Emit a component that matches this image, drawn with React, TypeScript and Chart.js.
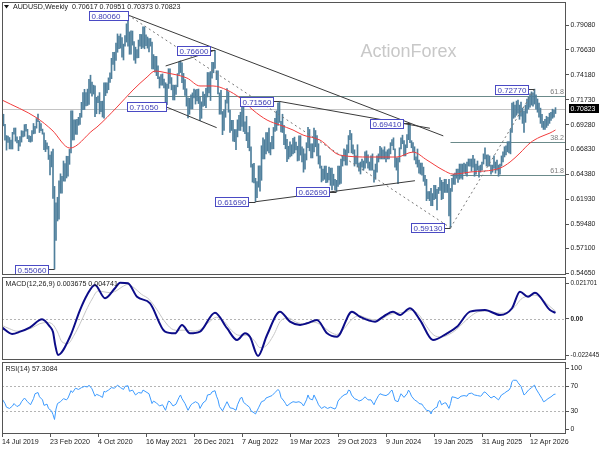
import React, { useEffect, useRef } from "react";
import { Chart, registerables } from "chart.js";

Chart.register(...registerables);

// ---------- DATA ----------
// Weekly AUDUSD bars starting week of 14 Jul 2019, prices in pips (price x 10000)
const highs = [
  7082, 7030, 6930, 6820, 6816, 6801, 6775, 6852, 6895, 6895,
  6808, 6773, 6810, 6868, 6864, 6928, 6930, 6882, 6821, 6814,
  6870, 6939, 6910, 6988, 7032, 6960, 6939, 6884, 6846, 6773,
  6749, 6715, 6629, 6662, 6686, 6320, 6158, 6213, 6375, 6444,
  6420, 6570, 6545, 6617, 6616, 6684, 7064, 7064, 6976, 6976,
  6980, 7000, 7039, 7147, 7242, 7275, 7242, 7277, 7374, 7414,
  7346, 7316, 7310, 7197, 7209, 7243, 7158, 7159, 7340, 7340,
  7340, 7388, 7438, 7580, 7640, 7640, 7730, 7820, 7800, 7820,
  7785, 7720, 7804, 7920, 8006, 7840, 7850, 7849, 7745, 7690,
  7667, 7760, 7817, 7815, 7891, 7890, 7812, 7790, 7775, 7776,
  7739, 7617, 7600, 7599, 7507, 7398, 7420, 7427, 7376, 7340,
  7326, 7478, 7478, 7391, 7317, 7316, 7316, 7430, 7546, 7556,
  7536, 7432, 7370, 7281, 7192, 7187, 7222, 7240, 7277, 7270,
  7276, 7278, 7196, 7152, 7250, 7227, 7285, 7441, 7440, 7450,
  7540, 7540, 7660, 7458, 7458, 7240, 7266, 7057, 7075, 7170,
  7283, 7251, 7070, 6970, 6970, 6880, 6880, 6975, 7020, 7050,
  7130, 7136, 6956, 7010, 6850, 6910, 6710, 6540, 6547, 6400,
  6367, 6522, 6522, 6720, 6798, 6780, 6850, 6850, 6893, 6752,
  6812, 6900, 6990, 7063, 7142, 7156, 6960, 7030, 6920, 6830,
  6783, 6715, 6758, 6730, 6793, 6805, 6757, 6715, 6818, 6818,
  6710, 6690, 6640, 6750, 6900, 6880, 6740, 6740, 6895, 6870,
  6820, 6740, 6620, 6520, 6490, 6520, 6520, 6450, 6510, 6500,
  6500, 6440, 6390, 6380, 6520, 6520, 6590, 6620, 6690, 6680,
  6730, 6820, 6871, 6840, 6730, 6680, 6620, 6730, 6550, 6560,
  6590, 6570, 6660, 6670, 6630, 6560, 6620, 6640, 6480, 6540,
  6620, 6640, 6714, 6700, 6680, 6710, 6660, 6680, 6690, 6750,
  6780, 6798, 6690, 6600, 6600, 6700, 6798, 6824, 6770, 6730,
  6830, 6940, 6941, 6770, 6750, 6710, 6610, 6688, 6580, 6550,
  6550, 6510, 6430, 6390, 6270, 6270, 6300, 6250, 6330, 6330,
  6290, 6310, 6408, 6380, 6360, 6390, 6390, 6340, 6390, 6300,
  6400, 6440, 6450, 6490, 6490, 6540, 6540, 6540, 6550, 6540,
  6560, 6590, 6590, 6590, 6625, 6590, 6540, 6570, 6520, 6530,
  6560, 6640, 6700, 6630, 6630, 6620, 6530, 6530, 6620, 6560,
  6580, 6530, 6540, 6620, 6660, 6710, 6720, 6760, 6760, 6880,
  7140, 7150, 7120, 7160, 7170, 7120, 7150, 7090, 7060, 7120,
  7180, 7200, 7230, 7250, 7240, 7277, 7220, 7180, 7140, 7090,
  7030, 6960, 6980, 7010, 7000, 7040, 7050, 7080, 7070, 7095,
];
const lows = [
  6990, 6916, 6776, 6677, 6752, 6689, 6688, 6688, 6835, 6765,
  6749, 6671, 6716, 6756, 6808, 6813, 6863, 6790, 6761, 6755,
  6762, 6837, 6842, 6893, 6956, 6850, 6869, 6834, 6682, 6662,
  6686, 6585, 6434, 6512, 6202, 5506, 5789, 5980, 5998, 6253,
  6253, 6372, 6372, 6403, 6420, 6537, 6649, 6776, 6777, 6832,
  6831, 6921, 6930, 7000, 7076, 7076, 7111, 7116, 7126, 7237,
  7207, 7229, 7006, 7035, 7143, 7034, 7055, 7003, 6991, 7213,
  7240, 7271, 7342, 7380, 7520, 7460, 7560, 7640, 7675, 7680,
  7592, 7564, 7700, 7740, 7700, 7620, 7622, 7710, 7563, 7531,
  7583, 7586, 7700, 7675, 7688, 7674, 7705, 7680, 7644, 7700,
  7477, 7475, 7445, 7410, 7380, 7288, 7316, 7315, 7290, 7105,
  7125, 7284, 7334, 7270, 7170, 7170, 7224, 7300, 7421, 7440,
  7340, 7275, 7215, 7110, 6993, 7030, 7082, 7082, 7190, 7130,
  7160, 7135, 6967, 6990, 7108, 7115, 7095, 7200, 7240, 7165,
  7385, 7438, 7480, 7370, 7230, 7030, 7030, 6829, 6870, 7000,
  7140, 7050, 6850, 6870, 6765, 6760, 6681, 6807, 6870, 6870,
  6910, 6860, 6840, 6770, 6700, 6670, 6510, 6362, 6355, 6169,
  6210, 6312, 6272, 6380, 6590, 6590, 6640, 6668, 6650, 6630,
  6690, 6690, 6860, 6871, 6920, 6950, 6855, 6850, 6730, 6690,
  6564, 6590, 6610, 6620, 6640, 6650, 6680, 6570, 6575, 6628,
  6560, 6460, 6490, 6580, 6700, 6670, 6600, 6600, 6660, 6710,
  6620, 6540, 6500, 6364, 6380, 6390, 6357, 6360, 6385, 6330,
  6286, 6330, 6285, 6269, 6320, 6340, 6350, 6520, 6570, 6530,
  6530, 6650, 6780, 6650, 6640, 6520, 6540, 6510, 6470, 6442,
  6510, 6480, 6500, 6550, 6500, 6480, 6480, 6480, 6362, 6390,
  6460, 6560, 6590, 6590, 6590, 6590, 6560, 6590, 6590, 6640,
  6720, 6680, 6510, 6480, 6348, 6560, 6690, 6740, 6620, 6620,
  6700, 6780, 6750, 6700, 6660, 6580, 6540, 6510, 6450, 6440,
  6430, 6370, 6330, 6180, 6200, 6180, 6130, 6130, 6190, 6200,
  6088, 6250, 6280, 6190, 6200, 6260, 6260, 6260, 6030, 5913,
  6270, 6340, 6340, 6400, 6360, 6390, 6400, 6390, 6460, 6440,
  6420, 6520, 6520, 6470, 6510, 6420, 6440, 6480, 6410, 6460,
  6480, 6540, 6590, 6520, 6520, 6520, 6440, 6460, 6500, 6450,
  6480, 6420, 6440, 6520, 6560, 6610, 6630, 6660, 6650, 6640,
  6850, 6990, 7000, 7020, 7040, 6980, 7010, 6940, 6850, 6950,
  7040, 7080, 7100, 7120, 7110, 7130, 7080, 7050, 7000, 6940,
  6900, 6880, 6880, 6900, 6920, 6940, 6970, 6990, 7000, 7037,
];

const lastOHLC = [0.70617, 0.70951, 0.70373, 0.70823];
const macdNow = [0.003675, 0.004741];
const rsiNow = 57.3084;

const xTickIdx = [0, 32, 64, 96, 128, 160, 192, 224, 256, 288, 320, 352];
const xTickLabels = [
  "14 Jul 2019", "23 Feb 2020", "4 Oct 2020", "16 May 2021", "26 Dec 2021", "7 Aug 2022",
  "19 Mar 2023", "29 Oct 2023", "9 Jun 2024", "19 Jan 2025", "31 Aug 2025", "12 Apr 2026",
];
const priceTicks = [0.5465, 0.571, 0.5948, 0.6193, 0.6438, 0.6683, 0.6928, 0.7173, 0.7418, 0.7663, 0.7908];
const macdTicks = [-0.022445, 0, 0.021701];
const rsiTicks = [0, 30, 70, 100];
const rsiLevels = [70, 30];

// 50-week moving average (bar index, value)
const maPoints: [number, number][] = [
  [0, 0.717], [23.3, 0.6993], [33.3, 0.6875], [45.3, 0.6697], [60.7, 0.6875], [63.3, 0.6904],
  [76.7, 0.7101], [87.3, 0.7268], [96.7, 0.7396], [102, 0.7455], [110, 0.7436], [123.3, 0.7386],
  [132, 0.7308], [140.7, 0.7308], [150, 0.7268], [158.7, 0.719], [167.3, 0.7071], [176.7, 0.6973],
  [185.3, 0.6924], [194, 0.6875], [200.7, 0.6825], [212, 0.6776], [225.3, 0.6628], [245.3, 0.6609],
  [263.3, 0.6609], [274, 0.6658], [283.3, 0.6579], [294, 0.6481], [300.7, 0.6441], [312, 0.6461],
  [332, 0.65], [338.7, 0.656], [345.3, 0.6648], [352, 0.6747], [358.7, 0.6806], [365.3, 0.6845],
  [369, 0.6875],
];

// MACD(12,26,9) main line
const macdPoints: [number, number][] = [
  [0, -0.0052], [6.7, -0.0092], [12, -0.0078], [18.7, -0.0051], [26.7, -0.0002], [32, -0.0048],
  [34, -0.008], [35.5, -0.016], [37.3, -0.022], [45.3, -0.0109], [52, 0.0054], [56.7, 0.0146],
  [62, 0.0207], [68.7, 0.0126], [75.3, 0.0187], [78.7, 0.0221], [84, 0.0217], [90, 0.0135],
  [98.7, 0.0095], [108.7, -0.0078], [115.3, -0.0088], [120, -0.0037], [125.3, -0.0088],
  [132, -0.0078], [142, 0.0038], [150, -0.0057], [156.7, -0.0129], [162, -0.0088],
  [165.3, -0.0109], [170.7, -0.0226], [176.7, -0.0098], [185.3, 0.0044], [192, -0.0017],
  [198.7, -0.0037], [203.3, -0.0027], [210, -0.0007], [216.7, -0.0088], [223.3, -0.0109],
  [233.3, 0.0044], [238.7, 0.0013], [248.7, -0.0017], [254, 0.0013], [260.7, 0.0044],
  [265.3, 0.0024], [272, 0.0065], [278.7, -0.0007], [287.3, -0.0129], [296.7, -0.0088],
  [303.3, -0.0048], [312, 0.0044], [322, 0.0054], [332, 0.0024], [340, 0.0065], [345.3, 0.0166],
  [350.7, 0.0135], [355.3, 0.016], [365.3, 0.0054], [369, 0.0037],
];

// MACD signal line
const signalPoints: [number, number][] = [
  [0, -0.004], [5, -0.006], [10, -0.0075], [15, -0.007], [20, -0.0055], [25, -0.003], [30, -0.0022],
  [34, -0.0035], [37, -0.008], [40, -0.014], [44, -0.015], [48, -0.01], [52, -0.003], [56, 0.005],
  [60, 0.012], [64, 0.017], [68, 0.0165], [72, 0.016], [76, 0.017], [80, 0.0195], [84, 0.021],
  [88, 0.019], [93, 0.015], [98, 0.012], [103, 0.006], [108, -0.001], [113, -0.006], [118, -0.007],
  [123, -0.0068], [128, -0.0075], [133, -0.006], [138, -0.002], [143, 0.001], [148, -0.0015],
  [153, -0.007], [158, -0.01], [163, -0.01], [168, -0.013], [172, -0.0175], [176, -0.0165],
  [181, -0.01], [186, -0.001], [191, 0.0005], [196, -0.002], [202, -0.003], [208, -0.002],
  [213, -0.004], [218, -0.0075], [223, -0.0095], [228, -0.006], [233, -0.0005], [238, 0.002],
  [243, 0.0005], [248, -0.0005], [253, 0], [258, 0.0025], [263, 0.0035], [268, 0.004], [273, 0.0052],
  [278, 0.0025], [283, -0.0045], [288, -0.01], [293, -0.011], [298, -0.0095], [303, -0.0065],
  [308, -0.002], [313, 0.002], [318, 0.0045], [323, 0.0048], [328, 0.0038], [333, 0.0035],
  [338, 0.0045], [342, 0.0075], [346, 0.012], [350, 0.0138], [355, 0.0145], [359, 0.013],
  [363, 0.0095], [366, 0.007], [369, 0.0047],
];

// RSI(14)
const rsiPoints: [number, number][] = [
  [0, 50], [2, 42], [3, 36], [5, 34], [7, 38], [8, 42], [10, 37], [12, 40], [13, 45], [15, 51],
  [17, 45], [19, 40], [21, 50], [22, 58], [24, 60], [25, 53], [27, 48], [28, 39], [30, 41], [31, 34],
  [33, 30], [34, 24], [35, 16], [36, 33], [37, 42], [39, 45], [41, 50], [43, 48], [44, 51], [46, 63],
  [47, 60], [49, 67], [51, 65], [53, 68], [55, 70], [57, 69], [58, 72], [60, 66], [62, 54], [63, 57],
  [65, 55], [67, 52], [68, 62], [69, 61], [71, 64], [73, 68], [75, 67], [77, 72], [79, 68], [81, 65],
  [82, 70], [84, 71], [85, 62], [87, 64], [89, 56], [91, 60], [93, 59], [94, 64], [96, 61], [98, 58],
  [100, 42], [101, 46], [103, 43], [105, 38], [107, 40], [109, 31], [110, 39], [111, 46], [112, 45],
  [114, 38], [116, 41], [118, 52], [119, 56], [120, 50], [122, 42], [124, 31], [126, 40], [127, 42],
  [129, 45], [131, 42], [132, 34], [134, 43], [136, 47], [137, 56], [139, 57], [140, 61], [142, 63],
  [143, 54], [144, 48], [145, 37], [147, 30], [149, 40], [150, 45], [152, 35], [154, 34], [156, 31],
  [157, 40], [159, 51], [160, 52], [161, 44], [163, 40], [165, 36], [166, 30], [168, 27], [169, 25],
  [171, 35], [173, 45], [175, 47], [176, 51], [178, 53], [180, 55], [182, 60], [184, 65], [185, 62],
  [186, 52], [188, 46], [189, 42], [190, 38], [192, 42], [194, 45], [196, 44], [198, 45], [200, 42],
  [201, 38], [203, 48], [204, 56], [205, 50], [207, 48], [208, 56], [210, 46], [211, 40], [213, 34],
  [215, 37], [217, 34], [219, 36], [220, 35], [222, 33], [223, 37], [224, 46], [226, 52], [228, 56],
  [230, 58], [231, 64], [232, 63], [233, 56], [235, 50], [237, 48], [238, 46], [240, 48], [242, 53],
  [244, 48], [246, 48], [248, 40], [249, 46], [251, 55], [252, 58], [254, 56], [256, 55], [258, 58],
  [259, 62], [260, 64], [261, 56], [262, 47], [264, 45], [265, 52], [266, 58], [268, 52], [270, 58],
  [271, 64], [272, 60], [273, 54], [275, 48], [277, 45], [278, 42], [280, 41], [281, 37], [283, 31],
  [285, 30], [286, 25], [287, 31], [289, 35], [290, 36], [291, 45], [292, 47], [293, 40], [295, 43],
  [296, 43], [298, 34], [299, 42], [300, 53], [302, 52], [304, 50], [306, 54], [308, 55], [310, 54],
  [311, 58], [313, 59], [315, 56], [317, 55], [319, 54], [320, 56], [321, 60], [322, 61], [324, 56],
  [326, 51], [328, 54], [330, 50], [331, 48], [333, 56], [335, 59], [336, 61], [338, 64], [339, 68],
  [340, 78], [341, 80], [343, 80], [344, 76], [346, 70], [348, 56], [349, 58], [351, 64], [353, 68],
  [355, 72], [356, 66], [358, 58], [360, 50], [361, 45], [362, 46], [364, 50], [366, 53], [368, 57],
  [369, 57.3],
];

// Drawn objects, in (bar index, price)
const trendLines: [number, number, number, number][] = [
  [84, 0.8006, 294.2, 0.6817],
  [185, 0.7156, 285.3, 0.6892],
  [109.1, 0.7505, 142, 0.766],
  [109.1, 0.7104, 143.1, 0.6898],
  [169, 0.6169, 275.3, 0.6376],
];
const dashedLines: [number, number, number, number][] = [
  [84, 0.8006, 299, 0.5913],
  [299, 0.5913, 355, 0.7277],
];
const fibLevels: { from: number; value: number; label: string }[] = [
  { from: 84, value: 0.7206, label: "61.8" },
  { from: 299, value: 0.6756, label: "38.2" },
  { from: 299, value: 0.6434, label: "61.8" },
];
const priceLabels: { bar: number; boxBar: number; price: number }[] = [
  { bar: 84, boxBar: 83.8, price: 0.8006 },
  { bar: 142, boxBar: 138.7, price: 0.766 },
  { bar: 109, boxBar: 109, price: 0.7105 },
  { bar: 185, boxBar: 180.7, price: 0.7156 },
  { bar: 35, boxBar: 30.7, price: 0.5506 },
  { bar: 169, boxBar: 164, price: 0.6169 },
  { bar: 223, boxBar: 218.3, price: 0.6269 },
  { bar: 272, boxBar: 267.3, price: 0.6941 },
  { bar: 299, boxBar: 294.7, price: 0.5913 },
  { bar: 355, boxBar: 350.7, price: 0.7277 },
];

// ---------- STYLE ----------
const FAMILY = "'Liberation Sans', Arial, sans-serif";
const AXIS_SIZE = 7.1;
const AXIS_FONT = `${AXIS_SIZE}px ${FAMILY}`;
const LABEL_FONT = `8px ${FAMILY}`;
const WIDE_LABEL_PRICES = [0.8006, 0.7105];
const TEXT_COLOR = "#1a1a1a";
const FRAME_COLOR = "#555555";
const BAR_COLOR = "#4f7f9c";
const X_MIN = 0;
const X_MAX = 376;

function line(ctx: CanvasRenderingContext2D, x1: number, y1: number, x2: number, y2: number) {
  ctx.beginPath();
  ctx.moveTo(x1, y1);
  ctx.lineTo(x2, y2);
  ctx.stroke();
}

function drawFrame(chart: any) {
  const { ctx, chartArea: a } = chart;
  ctx.save();
  ctx.strokeStyle = FRAME_COLOR;
  ctx.lineWidth = 1;
  ctx.strokeRect(a.left + 0.5, a.top + 0.5, a.width - 1, a.height - 1);
  ctx.restore();
}

function yAxis(min: number, max: number, ticks: number[], fmt: (v: number) => string, size: number, boldZero = false, showLabels = true) {
  return {
    type: "linear",
    position: "right",
    min,
    max,
    bounds: "data",
    afterBuildTicks: (s: any) => {
      s.ticks = ticks.map((v) => ({ value: v }));
    },
    afterFit: (s: any) => {
      s.width = 34;
      s.paddingTop = 0;
      s.paddingBottom = 0;
    },
    grid: { drawOnChartArea: false, drawTicks: showLabels, tickLength: 3, color: FRAME_COLOR, lineWidth: 1 },
    border: { display: false },
    ticks: {
      display: showLabels,
      autoSkip: false,
      padding: 1.5,
      color: TEXT_COLOR,
      font: (c: any) => ({
        family: FAMILY,
        size: size,
        weight: boldZero && c.tick && c.tick.value === 0 ? "bold" : "normal",
      }),
      callback: (v: any) => fmt(Number(v)),
    },
  };
}

function xAxis(show: boolean) {
  return {
    type: "linear",
    min: X_MIN,
    max: X_MAX,
    display: show,
    offset: false,
    afterBuildTicks: (s: any) => {
      s.ticks = xTickIdx.map((v) => ({ value: v }));
    },
    afterFit: (s: any) => {
      s.height = show ? 16 : 0;
      s.paddingLeft = 0;
      s.paddingRight = 0;
    },
    grid: { drawOnChartArea: false, drawTicks: true, tickLength: 3, color: FRAME_COLOR, offset: false },
    border: { display: false },
    ticks: {
      autoSkip: false,
      maxRotation: 0,
      minRotation: 0,
      align: "start",
      padding: 1,
      color: TEXT_COLOR,
      font: { family: FAMILY, size: AXIS_SIZE },
      callback: (v: any) => {
        const k = xTickIdx.indexOf(Number(v));
        return k >= 0 ? xTickLabels[k] : "";
      },
    },
  };
}

const baseOptions = {
  animation: false,
  responsive: false,
  maintainAspectRatio: false,
  devicePixelRatio: 1,
  events: [],
  plugins: { legend: { display: false }, tooltip: { enabled: false } },
};

const mainPlugin = {
  id: "mainDeco",
  beforeDatasetsDraw(chart: any) {
    const { ctx, chartArea: a } = chart;
    const xs = chart.scales.x;
    const ys = chart.scales.y;
    ctx.save();
    ctx.beginPath();
    ctx.rect(a.left, a.top, a.width, a.height);
    ctx.clip();
    ctx.fillStyle = "#c8c8c8";
    ctx.font = `18px ${FAMILY}`;
    ctx.textAlign = "center";
    ctx.textBaseline = "alphabetic";
    ctx.fillText("ActionForex", a.left + 406.5, a.top + 55);

    const py = Math.round(ys.getPixelForValue(lastOHLC[3])) + 0.5;
    ctx.strokeStyle = "#c4c4c4";
    ctx.lineWidth = 1;
    line(ctx, a.left, py, a.right, py);

    ctx.font = AXIS_FONT;
    ctx.textAlign = "right";
    ctx.textBaseline = "bottom";
    for (const f of fibLevels) {
      const fy = Math.round(ys.getPixelForValue(f.value)) + 0.5;
      const fx = xs.getPixelForValue(f.from);
      ctx.strokeStyle = "#6b8a8a";
      line(ctx, fx, fy, a.right, fy);
      ctx.fillStyle = "#7a7a7a";
      ctx.fillText(f.label, a.right - 2, fy - 1);
    }
    ctx.restore();
  },
  afterDatasetsDraw(chart: any) {
    const { ctx, chartArea: a } = chart;
    const xs = chart.scales.x;
    const ys = chart.scales.y;
    ctx.save();
    ctx.beginPath();
    ctx.rect(a.left, a.top, a.width, a.height);
    ctx.clip();
    ctx.lineWidth = 1;
    ctx.strokeStyle = "#3a3a3a";
    for (const [i1, v1, i2, v2] of trendLines) {
      line(ctx, xs.getPixelForValue(i1), ys.getPixelForValue(v1), xs.getPixelForValue(i2), ys.getPixelForValue(v2));
    }
    ctx.strokeStyle = "#777777";
    ctx.setLineDash([2, 3]);
    for (const [i1, v1, i2, v2] of dashedLines) {
      line(ctx, xs.getPixelForValue(i1), ys.getPixelForValue(v1), xs.getPixelForValue(i2), ys.getPixelForValue(v2));
    }
    ctx.setLineDash([]);

    ctx.font = LABEL_FONT;
    for (const L of priceLabels) {
      const text = L.price.toFixed(5);
      const ey = ys.getPixelForValue(L.price);
      const ex = xs.getPixelForValue(L.bar);
      const bx = xs.getPixelForValue(L.boxBar);
      const tw = ctx.measureText(text).width;
      const w = WIDE_LABEL_PRICES.includes(L.price) ? 39 : Math.round(tw + 4);
      const h = 9;
      const left = Math.round(bx - w) + 0.5;
      const top = Math.round(ey - h / 2) + 0.5;
      ctx.strokeStyle = "#3a3a3a";
      line(ctx, bx, Math.round(ey) + 0.5, ex, Math.round(ey) + 0.5);
      ctx.fillStyle = "#ffffff";
      ctx.fillRect(left, top, w, h);
      ctx.strokeStyle = "#4a4ac4";
      ctx.strokeRect(left, top, w, h);
      ctx.fillStyle = "#3c3cb4";
      ctx.textAlign = "left";
      ctx.textBaseline = "middle";
      ctx.fillText(text, left + 2, top + h / 2 + 0.5);
    }
    ctx.restore();
  },
  afterDraw(chart: any) {
    const { ctx, chartArea: a } = chart;
    const ys = chart.scales.y;
    drawFrame(chart);
    ctx.save();
    ctx.fillStyle = "#111111";
    ctx.beginPath();
    ctx.moveTo(a.left + 2, a.top + 3);
    ctx.lineTo(a.left + 7, a.top + 3);
    ctx.lineTo(a.left + 4.5, a.top + 6.5);
    ctx.closePath();
    ctx.fill();
    ctx.font = AXIS_FONT;
    ctx.textAlign = "left";
    ctx.textBaseline = "middle";
    ctx.fillStyle = TEXT_COLOR;
    ctx.fillText(`AUDUSD,Weekly  ${lastOHLC.map((v) => v.toFixed(5)).join(" ")}`, a.left + 11, a.top + 5.5);
    const py = ys.getPixelForValue(lastOHLC[3]);
    ctx.fillStyle = "#000000";
    ctx.fillRect(a.right + 3, Math.round(py - 4.5), 30, 9);
    ctx.fillStyle = "#ffffff";
    ctx.font = `6.9px ${FAMILY}`;
    ctx.fillText(lastOHLC[3].toFixed(5), a.right + 4.5, Math.round(py - 4.5) + 4.8);
    ctx.restore();
  },
};

const macdPlugin = {
  id: "macdDeco",
  beforeDatasetsDraw(chart: any) {
    const { ctx, chartArea: a } = chart;
    const y0 = Math.round(chart.scales.y.getPixelForValue(0)) + 0.5;
    ctx.save();
    ctx.strokeStyle = "#b4b4b4";
    ctx.lineWidth = 1;
    ctx.setLineDash([2, 2]);
    line(ctx, a.left, y0, a.right, y0);
    ctx.restore();
  },
  afterDraw(chart: any) {
    const { ctx, chartArea: a } = chart;
    drawFrame(chart);
    ctx.save();
    ctx.font = AXIS_FONT;
    ctx.fillStyle = TEXT_COLOR;
    ctx.textAlign = "left";
    ctx.textBaseline = "middle";
    ctx.fillText(`MACD(12,26,9) ${macdNow[0].toFixed(6)} ${macdNow[1].toFixed(6)}`, a.left + 3.5, a.top + 7.5);
    ctx.restore();
  },
};

const rsiPlugin = {
  id: "rsiDeco",
  beforeDatasetsDraw(chart: any) {
    const { ctx, chartArea: a } = chart;
    ctx.save();
    ctx.strokeStyle = "#b4b4b4";
    ctx.lineWidth = 1;
    ctx.setLineDash([2, 2]);
    for (const lv of rsiLevels) {
      const yy = Math.round(chart.scales.y.getPixelForValue(lv)) + 0.5;
      line(ctx, a.left, yy, a.right, yy);
    }
    ctx.restore();
  },
  afterDraw(chart: any) {
    const { ctx, chartArea: a } = chart;
    const ys = chart.scales.y;
    drawFrame(chart);
    ctx.save();
    ctx.font = AXIS_FONT;
    ctx.fillStyle = TEXT_COLOR;
    ctx.textAlign = "left";
    ctx.textBaseline = "middle";
    ctx.fillText(`RSI(14) ${rsiNow.toFixed(4)}`, a.left + 3.5, a.top + 7.5);
    // right-hand RSI scale: tick marks and labels through the RSI y scale
    ctx.font = `6.9px ${FAMILY}`;
    ctx.strokeStyle = FRAME_COLOR;
    ctx.lineWidth = 1;
    for (const t of rsiTicks) {
      const ty = Math.max(ys.getPixelForValue(t), a.top + 5);
      line(ctx, a.right, Math.round(ty) + 0.5, a.right + 3, Math.round(ty) + 0.5);
      ctx.fillText(String(t), a.right + 4.5, ty);
    }
    ctx.restore();
  },
};

const toXY = (pts: [number, number][]) => pts.map(([x, y]) => ({ x, y }));

function mainConfig(): any {
  return {
    type: "bar",
    data: {
      datasets: [
        {
          type: "line",
          data: toXY(maPoints),
          borderColor: "#f23c3c",
          borderWidth: 1,
          pointRadius: 0,
          tension: 0.4,
          cubicInterpolationMode: "monotone",
          order: 1,
        },
        {
          type: "bar",
          data: highs.map((h, i) => ({ x: i, y: [lows[i] / 10000, h / 10000] })),
          backgroundColor: BAR_COLOR,
          borderWidth: 0,
          barThickness: 1,
          grouped: false,
          order: 2,
        },
      ],
    },
    options: {
      ...baseOptions,
      layout: { padding: { left: 2, top: 2, right: 0, bottom: 2 } },
      scales: {
        x: xAxis(false),
        y: yAxis(0.54483, 0.81343, priceTicks, (v) => v.toFixed(5), 6.9),
      },
    },
    plugins: [mainPlugin],
  };
}

function macdConfig(): any {
  return {
    type: "line",
    data: {
      datasets: [
        {
          data: toXY(macdPoints),
          borderColor: "#0c0c88",
          borderWidth: 2,
          pointRadius: 0,
          tension: 0.4,
          cubicInterpolationMode: "monotone",
        },
        {
          data: toXY(signalPoints),
          borderColor: "#c6c6c6",
          borderWidth: 1,
          pointRadius: 0,
          tension: 0.4,
          cubicInterpolationMode: "monotone",
        },
      ],
    },
    options: {
      ...baseOptions,
      layout: { padding: { left: 2, top: 2, right: 0, bottom: 1 } },
      scales: {
        x: xAxis(false),
        y: yAxis(-0.025067, 0.025543, macdTicks, (v) => (v === 0 ? "0.00" : v.toFixed(6)), 6.4, true),
      },
    },
    plugins: [macdPlugin],
  };
}

function rsiConfig(): any {
  return {
    type: "line",
    data: {
      datasets: [
        {
          data: toXY(rsiPoints),
          borderColor: "#3d9bff",
          borderWidth: 1,
          pointRadius: 0,
          tension: 0,
        },
      ],
    },
    options: {
      ...baseOptions,
      layout: { padding: { left: 2, top: 1, right: 0, bottom: 0 } },
      scales: {
        x: xAxis(true),
        y: yAxis(-7.7, 109.8, rsiTicks, (v) => String(v), 6.9, false, false),
      },
    },
    plugins: [rsiPlugin],
  };
}

export default function App() {
  const mainRef = useRef<HTMLCanvasElement>(null);
  const macdRef = useRef<HTMLCanvasElement>(null);
  const rsiRef = useRef<HTMLCanvasElement>(null);

  useEffect(() => {
    const charts = [
      new Chart(mainRef.current as HTMLCanvasElement, mainConfig()),
      new Chart(macdRef.current as HTMLCanvasElement, macdConfig()),
      new Chart(rsiRef.current as HTMLCanvasElement, rsiConfig()),
    ];
    return () => charts.forEach((c) => c.destroy());
  }, []);

  return (
    <div style={{ position: "fixed", left: 0, top: 0, width: 600, height: 450, background: "#ffffff", overflow: "hidden" }}>
      <canvas ref={mainRef} width={600} height={277} style={{ position: "absolute", left: 0, top: 0, width: 600, height: 277, zIndex: 1 }} />
      <canvas ref={macdRef} width={600} height={86} style={{ position: "absolute", left: 0, top: 275, width: 600, height: 86, zIndex: 2 }} />
      <canvas ref={rsiRef} width={600} height={89} style={{ position: "absolute", left: 0, top: 361, width: 600, height: 89, zIndex: 3 }} />
    </div>
  );
}
